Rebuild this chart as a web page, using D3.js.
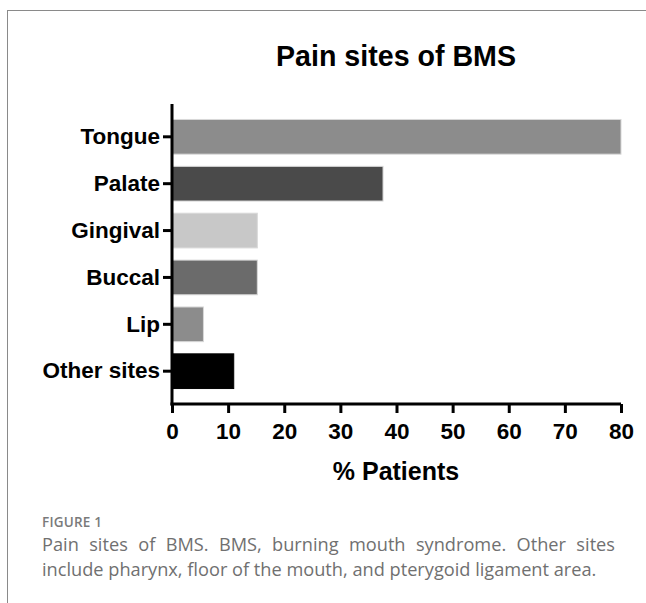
<!DOCTYPE html>
<html>
<head>
<meta charset="utf-8">
<script src="https://cdn.jsdelivr.net/npm/d3@7"></script>
<style>
  html, body { margin: 0; padding: 0; background: #fff; }
  body { width: 646px; height: 603px; position: relative; overflow: hidden; }
  #frame { position: absolute; left: 7px; top: 10px; width: 660px; height: 620px; border-left: 1px solid #8a8a8a; border-top: 1px solid #8a8a8a; }
  svg { position: absolute; left: 0; top: 0; }
  .cap { position: absolute; left: 42px; width: 573px; font-family: "Open Sans", sans-serif; color: #707070; white-space: nowrap; }
  #fig { top: 513px; font-size: 13.5px; font-weight: 600; color: #7a7a7a; letter-spacing: 0.2px; }
  #l1 { top: 532px; font-size: 18.2px; text-align: justify; text-align-last: justify; white-space: normal; }
  #l2 { top: 557px; font-size: 18.2px; }
</style>
</head>
<body>
<div id="frame"></div>
<svg id="chart" width="646" height="603"></svg>
<div class="cap" id="fig">FIGURE 1</div>
<div class="cap" id="l1">Pain sites of BMS. BMS, burning mouth syndrome. Other sites</div>
<div class="cap" id="l2">include pharynx, floor of the mouth, and pterygoid ligament area.</div>
<script>
const categories = ["Tongue", "Palate", "Gingival", "Buccal", "Lip", "Other sites"];
const values = [80, 37.6, 15.2, 15.2, 5.6, 11.0];
const colors = ["#8c8c8c", "#4a4a4a", "#c8c8c8", "#6b6b6b", "#8c8c8c", "#000000"];
const xTicks = [0, 10, 20, 30, 40, 50, 60, 70, 80];
const title = "Pain sites of BMS";
const xTitle = "% Patients";

const svg = d3.select("#chart");
const x = d3.scaleLinear().domain([0, 80]).range([172, 621]);
const y = d3.scaleBand().domain(categories).range([104, 404]).paddingInner(0.26).paddingOuter(0.33);

svg.append("text").attr("x", 396).attr("y", 66).attr("text-anchor", "middle")
  .attr("font-family", "Liberation Sans, Arial, sans-serif").attr("font-weight", "bold")
  .attr("font-size", 28.6).attr("fill", "#000").text(title);

svg.append("g").selectAll("rect").data(categories).join("rect")
  .attr("x", x(0)).attr("y", d => y(d))
  .attr("width", (d, i) => x(values[i]) - x(0))
  .attr("height", y.bandwidth())
  .attr("fill", (d, i) => colors[i])
  .attr("stroke", (d, i) => i === 5 ? "#000" : "#d8d8d8").attr("stroke-width", 1);

const xAxis = svg.append("g").attr("transform", "translate(0,404)")
  .call(d3.axisBottom(x).tickValues(xTicks).tickSize(9).tickPadding(10).tickFormat(d3.format("d")));
const yAxis = svg.append("g").attr("transform", "translate(172,0)")
  .call(d3.axisLeft(y).tickSize(9).tickPadding(3));
yAxis.select(".domain").attr("d", "M0,104V405.5");
xAxis.select(".domain").attr("d", "M170.5,0H621");

[xAxis, yAxis].forEach(g => {
  g.select(".domain").attr("stroke", "#000").attr("stroke-width", 3);
  g.selectAll(".tick line").attr("stroke", "#000").attr("stroke-width", 3);
  g.selectAll(".tick text").attr("fill", "#000")
    .attr("font-family", "Liberation Sans, Arial, sans-serif")
    .attr("font-weight", "bold").attr("font-size", 22.5);
});

svg.append("text").attr("x", 396).attr("y", 480).attr("text-anchor", "middle")
  .attr("font-family", "Liberation Sans, Arial, sans-serif").attr("font-weight", "bold")
  .attr("font-size", 25).attr("fill", "#000").text(xTitle);
</script>
</body>
</html>
